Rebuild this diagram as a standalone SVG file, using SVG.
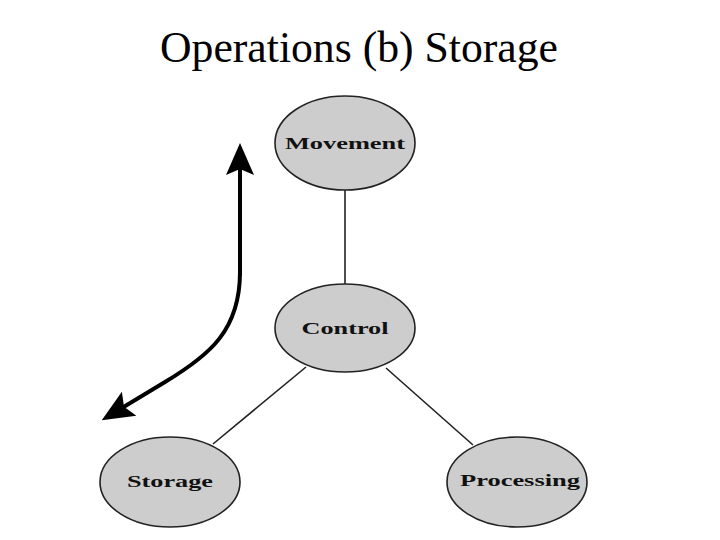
<svg xmlns="http://www.w3.org/2000/svg" width="720" height="540" viewBox="0 0 720 540">
<style>
.node ellipse{fill:#cdcdcd;stroke:#222;stroke-width:1.6}
.node text{font-family:"Liberation Serif","DejaVu Serif",serif;font-weight:bold;font-size:16px;fill:#111;text-anchor:middle}
.edge{stroke:#222;stroke-width:1.6;fill:none}
.title{font-family:"Liberation Serif","Times New Roman",serif;font-size:44px;fill:#000;text-anchor:middle}
</style>
<defs>
<marker id="ah" markerWidth="8" markerHeight="8" refX="5" refY="4" orient="auto" markerUnits="strokeWidth" viewBox="0 0 8 8">
<path d="M0,0.5 L8,4 L0,7.5 L1.5,4 Z" fill="#000"/>
</marker>
</defs>
<rect width="720" height="540" fill="#fff"/>
<text class="title" x="359" y="62" textLength="398" lengthAdjust="spacingAndGlyphs">Operations (b) Storage</text>
<g id="connectors">
<line class="edge" x1="345" y1="190" x2="345" y2="285"/>
<line class="edge" x1="306" y1="367" x2="213" y2="444"/>
<line class="edge" x1="386" y1="368" x2="473" y2="445"/>
<path d="M240,276 L240,155" fill="none" stroke="#000" stroke-width="4" marker-end="url(#ah)"/>
<path d="M240,272 C240,330 210,355 165,382 L112,414" fill="none" stroke="#000" stroke-width="4" marker-end="url(#ah)"/>
</g>
<g id="movement" class="node"><ellipse cx="345" cy="143" rx="70" ry="47"/><text x="345" y="149" textLength="120" lengthAdjust="spacingAndGlyphs">Movement</text></g>
<g id="control" class="node"><ellipse cx="345" cy="328" rx="70" ry="44"/><text x="345" y="334" textLength="87" lengthAdjust="spacingAndGlyphs">Control</text></g>
<g id="storage" class="node"><ellipse cx="170" cy="482" rx="70" ry="45"/><text x="170" y="487" textLength="86" lengthAdjust="spacingAndGlyphs">Storage</text></g>
<g id="processing" class="node"><ellipse cx="517" cy="482" rx="70" ry="45"/><text x="520" y="486" textLength="120" lengthAdjust="spacingAndGlyphs">Processing</text></g>
</svg>
